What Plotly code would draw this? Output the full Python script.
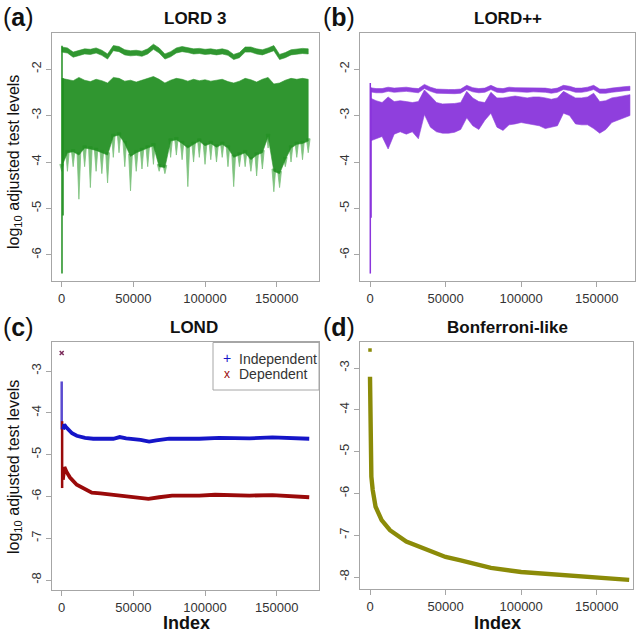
import plotly.graph_objects as go

W, H = 643, 632
FONT = "Liberation Sans, Arial, sans-serif"

# ---------------- data ----------------
x_tick_vals = [0, 50000, 100000, 150000]
x_tick_text = ["0", "50000", "100000", "150000"]
y_ticks_top = [-6, -5, -4, -3, -2]
y_ticks_top_text = ["-6", "-5", "-4", "-3", "-2"]
y_ticks_bot = [-8, -7, -6, -5, -4, -3]
y_ticks_bot_text = ["-8", "-7", "-6", "-5", "-4", "-3"]

# sample positions (index) of the envelope read from the dense scatters (a), (b)
band_index = [0, 4000, 8000, 12000, 16000, 20000, 24000, 28000, 32000, 36000,
              40000, 44000, 48000, 52000, 56000, 60000, 64000, 68000, 72000, 76000,
              80000, 84000, 88000, 92000, 96000, 100000, 104000, 108000, 112000, 116000,
              120000, 124000, 128000, 132000, 136000, 140000, 144000, 148000, 152000, 156000,
              160000, 164000, 168000, 172000]

# (a) LORD 3
lord3_upper_mid = [-1.58, -1.60, -1.69, -1.66, -1.62, -1.63, -1.60, -1.65, -1.73, -1.55,
                   -1.57, -1.64, -1.66, -1.65, -1.67, -1.62, -1.52, -1.60, -1.73, -1.68,
                   -1.60, -1.57, -1.59, -1.62, -1.61, -1.63, -1.62, -1.64, -1.62, -1.65,
                   -1.74, -1.70, -1.58, -1.58, -1.62, -1.64, -1.60, -1.55, -1.74, -1.70,
                   -1.64, -1.62, -1.61, -1.62]
lord3_main_top = [-2.20, -2.22, -2.25, -2.18, -2.24, -2.27, -2.22, -2.25, -2.30, -2.18,
                  -2.20, -2.26, -2.24, -2.28, -2.24, -2.20, -2.16, -2.22, -2.30, -2.24,
                  -2.20, -2.22, -2.26, -2.22, -2.25, -2.23, -2.26, -2.24, -2.22, -2.27,
                  -2.30, -2.26, -2.20, -2.23, -2.28, -2.22, -2.18, -2.32, -2.30, -2.24,
                  -2.20, -2.22, -2.20, -2.22]
lord3_main_bottom = [-4.10, -3.80, -3.78, -3.85, -3.70, -3.72, -3.75, -3.80, -3.85, -3.45,
                     -3.42, -3.60, -3.88, -3.80, -3.75, -3.70, -3.65, -4.10, -4.12, -3.55,
                     -3.52, -3.60, -3.70, -3.62, -3.55, -3.65, -3.60, -3.68, -3.62, -3.70,
                     -3.90, -3.85, -3.80, -3.95, -3.85, -3.80, -3.45, -4.20, -4.25, -3.95,
                     -3.70, -3.62, -3.60, -3.55]
lord3_tail_bottom = [-4.20, -4.20, -4.10, -4.80, -4.10, -4.55, -4.20, -4.25, -4.45, -3.90,
                     -3.80, -4.10, -4.62, -4.20, -4.15, -4.10, -4.05, -4.20, -4.25, -3.90,
                     -3.85, -3.95, -4.53, -4.00, -3.90, -4.05, -3.95, -4.00, -3.90, -4.10,
                     -4.53, -4.10, -4.10, -4.20, -4.30, -4.15, -3.70, -4.64, -4.55, -4.10,
                     -4.00, -3.90, -3.95, -3.80]
lord3_start_index = [200, 900]
lord3_start_low = [-6.40, -5.15]
lord3_start_high = [-1.50, -2.20]

# (b) LORD++
lordpp_line_mid = [-2.45, -2.47, -2.47, -2.44, -2.46, -2.45, -2.44, -2.46, -2.47, -2.38,
                   -2.44, -2.48, -2.49, -2.49, -2.49, -2.48, -2.40, -2.45, -2.47, -2.46,
                   -2.40, -2.46, -2.47, -2.44, -2.45, -2.45, -2.46, -2.45, -2.45, -2.46,
                   -2.48, -2.46, -2.40, -2.42, -2.46, -2.46, -2.44, -2.40, -2.48, -2.48,
                   -2.46, -2.44, -2.43, -2.42]
lordpp_body_top = [-2.62, -2.68, -2.72, -2.60, -2.70, -2.68, -2.70, -2.72, -2.70, -2.45,
                   -2.58, -2.72, -2.75, -2.75, -2.74, -2.72, -2.48, -2.62, -2.70, -2.72,
                   -2.50, -2.62, -2.62, -2.60, -2.58, -2.60, -2.62, -2.60, -2.60, -2.62,
                   -2.65, -2.62, -2.48, -2.55, -2.62, -2.62, -2.60, -2.52, -2.70, -2.68,
                   -2.62, -2.60, -2.58, -2.55]
lordpp_body_bottom = [-3.55, -3.50, -3.45, -3.72, -3.40, -3.35, -3.40, -3.35, -3.50, -2.98,
                      -3.25, -3.35, -3.38, -3.38, -3.36, -3.30, -3.05, -3.22, -3.30, -3.10,
                      -2.95, -3.25, -3.32, -3.20, -3.18, -3.15, -3.18, -3.20, -3.22, -3.28,
                      -3.25, -3.22, -2.95, -3.00, -3.18, -3.20, -3.20, -3.28, -3.38, -3.30,
                      -3.15, -3.10, -3.05, -3.00]
lordpp_start_index = [200, 700]
lordpp_start_low = [-6.40, -5.20]
lordpp_start_high = [-2.30, -2.40]

# (c) LOND
lond_indep_index = [1000, 1800, 3000, 5000, 7200, 10500, 16300, 22000, 30000, 36000, 40500,
                    45000, 55000, 61000, 66000, 75000, 96000, 110000, 131000, 147000, 172700]
lond_indep_value = [-4.40, -4.28, -4.34, -4.42, -4.49, -4.55, -4.60, -4.62, -4.63, -4.62, -4.58,
                    -4.61, -4.65, -4.69, -4.66, -4.62, -4.62, -4.60, -4.61, -4.59, -4.62]
lond_dep_index = [800, 1900, 3500, 5800, 10500, 17000, 21000, 27000, 36000, 50000, 60500,
                  68000, 77000, 96000, 107000, 131000, 147000, 172700]
lond_dep_value = [-5.60, -5.30, -5.42, -5.55, -5.72, -5.85, -5.91, -5.93, -5.97, -6.01, -6.06,
                  -6.02, -5.98, -5.98, -5.96, -5.98, -5.97, -6.02]
lond_indep_start = [-3.25, -4.40]
lond_dep_start = [-4.20, -5.80]
lond_first_value = -2.57

# (d) Bonferroni-like
bonf_index = [0, 150, 400, 900, 1800, 3700, 7700, 13200, 24000, 40000, 50000, 60000,
              70000, 80000, 100000, 120000, 140000, 160000, 171500]
bonf_value = [-3.21, -4.60, -5.30, -5.60, -5.92, -6.32, -6.64, -6.88, -7.15, -7.38, -7.52, -7.60,
              -7.70, -7.78, -7.88, -7.94, -8.00, -8.04, -8.07]
bonf_first_value = -2.57

legend_labels = ["Independent", "Dependent"]

# ---------------- colours ----------------
GREEN = "#1f8e1f"
GREEN_LIGHT = "#7cc27c"
PURPLE = "#8a35dc"
BLUE = "#1515c8"
RED = "#9a0a0a"
OLIVE = "#8b8b08"
AXIS = "#a6a6a6"
TXT = "#333333"


def px_x(p):
    return p / W


def px_y(p):
    return 1 - p / H


def band(xs, top, bot, color, xa, ya, opacity=1.0):
    return go.Scatter(x=list(xs) + list(xs)[::-1], y=list(top) + list(bot)[::-1],
                      fill="toself", mode="lines", line=dict(width=0.6, color=color),
                      fillcolor=color, opacity=opacity, hoverinfo="skip",
                      xaxis=xa, yaxis=ya, showlegend=False)


def spikes(xs, base, tip, color, half_w, xa, ya):
    X, Y = [], []
    for x, a, b in zip(xs, base, tip):
        X += [x - half_w, x, x + half_w, x - half_w, None]
        Y += [a + 0.05, b, a + 0.05, a + 0.05, None]
    return go.Scatter(x=X, y=Y, mode="lines", fill="toself", fillcolor=color,
                      line=dict(color=color, width=0.8), hoverinfo="skip",
                      xaxis=xa, yaxis=ya, showlegend=False)


def segments(xs, lo, hi, color, width, xa, ya):
    X, Y = [], []
    for x, a, b in zip(xs, lo, hi):
        X += [x, x, None]
        Y += [a, b, None]
    return go.Scatter(x=X, y=Y, mode="lines", line=dict(color=color, width=width),
                      hoverinfo="skip", xaxis=xa, yaxis=ya, showlegend=False)


fig = go.Figure()

# (a)
fig.add_trace(spikes(band_index, lord3_main_bottom, lord3_tail_bottom, GREEN_LIGHT, 1300, "x", "y"))
fig.add_trace(band(band_index, lord3_main_top, lord3_main_bottom, GREEN, "x", "y", 0.92))
fig.add_trace(band(band_index, [v + 0.055 for v in lord3_upper_mid],
                   [v - 0.055 for v in lord3_upper_mid], GREEN, "x", "y", 0.92))
fig.add_trace(segments(lord3_start_index, lord3_start_low, lord3_start_high, GREEN, 1.5, "x", "y"))

# (b)
fig.add_trace(band(band_index, lordpp_body_top, lordpp_body_bottom, PURPLE, "x2", "y2", 0.95))
fig.add_trace(band(band_index, [v + 0.05 for v in lordpp_line_mid],
                   [v - 0.04 for v in lordpp_line_mid], PURPLE, "x2", "y2", 0.95))
fig.add_trace(segments(lordpp_start_index, lordpp_start_low, lordpp_start_high, PURPLE, 1.5, "x2", "y2"))

# (c)
fig.add_trace(go.Scatter(x=[0, 0], y=lond_indep_start, mode="lines", line=dict(color="#5a4ad0", width=2.5),
                         xaxis="x3", yaxis="y3", showlegend=False, hoverinfo="skip"))
fig.add_trace(go.Scatter(x=[300, 300], y=lond_dep_start, mode="lines", line=dict(color=RED, width=2.5),
                         xaxis="x3", yaxis="y3", showlegend=False, hoverinfo="skip"))
fig.add_trace(go.Scatter(x=lond_indep_index, y=lond_indep_value, mode="lines",
                         line=dict(color=BLUE, width=3.8), xaxis="x3", yaxis="y3",
                         name=legend_labels[0], showlegend=False))
fig.add_trace(go.Scatter(x=lond_dep_index, y=lond_dep_value, mode="lines",
                         line=dict(color=RED, width=3.8), xaxis="x3", yaxis="y3",
                         name=legend_labels[1], showlegend=False))
fig.add_trace(go.Scatter(x=[0], y=[lond_first_value], mode="markers",
                         marker=dict(symbol="x-thin", size=4, line=dict(color="#7a2a5a", width=1.5)),
                         xaxis="x3", yaxis="y3", showlegend=False, hoverinfo="skip"))

# (d)
fig.add_trace(go.Scatter(x=bonf_index, y=bonf_value, mode="lines",
                         line=dict(color=OLIVE, width=4.4), xaxis="x4", yaxis="y4",
                         showlegend=False))
fig.add_trace(go.Scatter(x=[0], y=[bonf_first_value], mode="markers",
                         marker=dict(symbol="square", size=3.5, color=OLIVE),
                         xaxis="x4", yaxis="y4", showlegend=False))

# ---------------- axes ----------------
def xax(dom, rng, anchor):
    return dict(domain=dom, range=rng, anchor=anchor, showline=True, mirror=True,
                linecolor=AXIS, linewidth=1, ticks="outside", ticklen=5, tickcolor=AXIS,
                showgrid=False, zeroline=False, tickmode="array", tickvals=x_tick_vals,
                ticktext=x_tick_text, tickfont=dict(size=13, color=TXT, family=FONT))


def yax(dom, rng, anchor, vals, text):
    return dict(domain=dom, range=rng, anchor=anchor, showline=True, mirror=True,
                linecolor=AXIS, linewidth=1, ticks="outside", ticklen=5, tickcolor=AXIS,
                showgrid=False, zeroline=False, tickmode="array", tickvals=vals,
                ticktext=text, tickangle=-90,
                tickfont=dict(size=13, color=TXT, family=FONT))


top_dom = [px_y(281), px_y(33)]
fig.update_layout(
    xaxis=xax([px_x(52), px_x(319)], [-6767, 179512], "y"),
    yaxis=yax(top_dom, [-6.56, -1.224], "x", y_ticks_top, y_ticks_top_text),
    xaxis2=xax([px_x(360), px_x(635)], [-6617, 175342], "y2"),
    yaxis2=yax(top_dom, [-6.56, -1.224], "x2", y_ticks_top, y_ticks_top_text),
    xaxis3=xax([px_x(52), px_x(319)], [-6767, 179512], "y3"),
    yaxis3=yax([px_y(590), px_y(342)], [-8.239, -2.306], "x3", y_ticks_bot, y_ticks_bot_text),
    xaxis4=xax([px_x(360), px_x(633)], [-6617, 174020], "y4"),
    yaxis4=yax([px_y(589), px_y(342)], [-8.287, -2.378], "x4", y_ticks_bot, y_ticks_bot_text),
)

ann = []


def text(x, y, s, size, angle=0, color="#111111", xanchor="center"):
    ann.append(dict(x=px_x(x), y=px_y(y), xref="paper", yref="paper", text=s, showarrow=False,
                    xanchor=xanchor, yanchor="middle", textangle=angle,
                    font=dict(size=size, color=color, family=FONT)))


for lab, x, y in [("a", 1, 17), ("b", 321, 17), ("c", 1, 327), ("d", 321, 327)]:
    text(x, y, "(<b>%s</b>)" % lab, 25, xanchor="left")

text(195, 18, "<b>LORD 3</b>", 17)
text(508, 18, "<b>LORD++</b>", 17)
text(194, 327, "<b>LOND</b>", 17)
text(507, 327, "<b>Bonferroni-like</b>", 17)

ylab = "log<sub>10</sub> adjusted test levels"
text(14, 162, ylab, 16, angle=-90)
text(14, 467, ylab, 16, angle=-90)
text(186, 623, "<b>Index</b>", 18)
text(497, 623, "<b>Index</b>", 18)

# legend of (c)
fig.add_shape(type="rect", xref="paper", yref="paper", x0=px_x(213), x1=px_x(319),
              y0=px_y(390), y1=px_y(342.5), line=dict(color=AXIS, width=1), fillcolor="white")
text(226.5, 358, "+", 14, color=BLUE)
text(226.5, 374, "x", 12, color=RED)
text(237, 359, legend_labels[0], 14, color=TXT, xanchor="left")
text(237, 374, legend_labels[1], 14, color=TXT, xanchor="left")

fig.update_layout(annotations=ann, width=W, height=H, margin=dict(l=0, r=0, t=0, b=0),
                  paper_bgcolor="white", plot_bgcolor="white", showlegend=False)

fig.write_html("out.html", config={"displayModeBar": False},
               post_script="document.body.style.margin='0';document.body.style.overflow='hidden';")
